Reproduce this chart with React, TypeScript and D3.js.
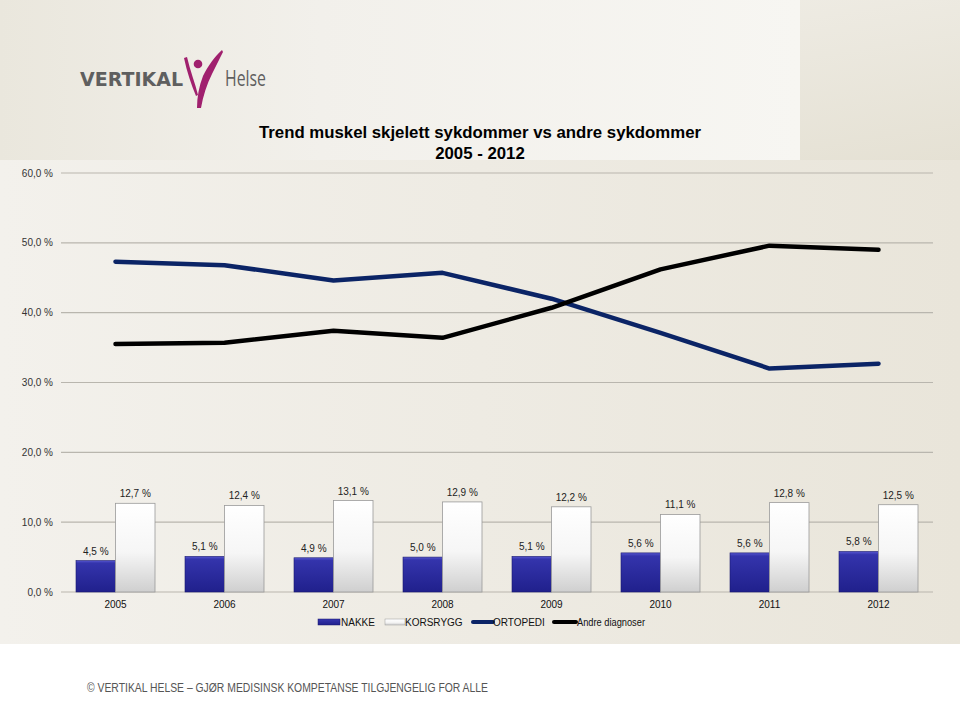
import React from "react";
import * as d3 from "d3";

const years = ["2005", "2006", "2007", "2008", "2009", "2010", "2011", "2012"];
const nakke = [4.5, 5.1, 4.9, 5.0, 5.1, 5.6, 5.6, 5.8];
const korsrygg = [12.7, 12.4, 13.1, 12.9, 12.2, 11.1, 12.8, 12.5];
const ortopedi = [47.3, 46.8, 44.6, 45.7, 42.0, 37.1, 32.0, 32.7];
const andre = [35.5, 35.7, 37.4, 36.4, 40.7, 46.2, 49.6, 49.0];
const yTicks = [0, 10, 20, 30, 40, 50, 60];

const fmt = (v: number) => v.toFixed(1).replace(".", ",") + " %";
const FONT = "'Liberation Sans', Arial, sans-serif";

export default function App() {
  const W = 960, H = 720;
  const x = d3.scaleBand<string>().domain(years).range([61, 933]);
  const x1 = d3.scaleBand<string>().domain(["NAKKE", "KORSRYGG"]).range([15, 94]);
  const y = d3.scaleLinear().domain([0, 60]).range([592, 173]);
  const line = d3
    .line<number>()
    .x((_, i) => (x(years[i]) as number) + x.bandwidth() / 2)
    .y((d) => y(d));

  return (
    <svg width={W} height={H} style={{ position: "absolute", left: 0, top: 0 }} fontFamily={FONT}>
      <defs>
        <linearGradient id="bg" x1="0" y1="0" x2="1" y2="0">
          <stop offset="0" stopColor="#f3f1ec" />
          <stop offset="1" stopColor="#e9e5da" />
        </linearGradient>
        <linearGradient id="hdr" x1="0" y1="0" x2="1" y2="0">
          <stop offset="0" stopColor="#eae7dd" />
          <stop offset="0.4" stopColor="#f2f0eb" />
          <stop offset="1" stopColor="#f7f6f2" />
        </linearGradient>
        <linearGradient id="hdrR" x1="0" y1="0" x2="1" y2="1">
          <stop offset="0" stopColor="#f4f2ed" />
          <stop offset="1" stopColor="#e5e1d4" />
        </linearGradient>
        <linearGradient id="blue" x1="0" y1="0" x2="0" y2="1">
          <stop offset="0" stopColor="#5656d0" />
          <stop offset="0.08" stopColor="#3434ac" />
          <stop offset="1" stopColor="#20208c" />
        </linearGradient>
        <linearGradient id="white" x1="0" y1="0" x2="0" y2="1">
          <stop offset="0" stopColor="#ffffff" />
          <stop offset="0.55" stopColor="#f6f6f6" />
          <stop offset="1" stopColor="#cfcfcf" />
        </linearGradient>
      </defs>
      <rect x={0} y={0} width={W} height={H} fill="#ffffff" />
      <rect x={0} y={160} width={W} height={484} fill="url(#bg)" />
      <rect x={0} y={0} width={W} height={160} fill="url(#hdrR)" />
      <rect x={0} y={0} width={800} height={160} fill="url(#hdr)" />

      {/* Logo */}
      <text x={80} y={86} fontFamily="'DejaVu Sans', sans-serif" fontWeight="bold" fontSize={20} fill="#5f5f5f" textLength={103} lengthAdjust="spacingAndGlyphs">
        VERTIKAL
      </text>
      <path d="M184,58 C187,72 191,84 196,96 L198,95 C195,83 190,70 187,57 Z" fill="#a0206e" />
      <circle cx={198} cy={64} r={4.3} fill="#a0206e" />
      <path d="M222,50 C215,56 208,66 203,76 C199,86 197,97 197,108 L201,108 C203,96 207,84 212,74 C216,66 220,58 223,52 Z" fill="#a0206e" />
      <text x={225} y={86} fontFamily="'Open Sans', 'DejaVu Sans', sans-serif" fontSize={21} fill="#5f5f5f" textLength={41} lengthAdjust="spacingAndGlyphs">
        Helse
      </text>

      {/* Title */}
      <text x={480} y={138} textAnchor="middle" fontWeight="bold" fontSize={16.8} fill="#000">
        Trend muskel skjelett sykdommer vs andre sykdommer
      </text>
      <text x={480} y={159} textAnchor="middle" fontWeight="bold" fontSize={16.8} fill="#000">
        2005 - 2012
      </text>

      {/* Grid + y labels */}
      {yTicks.map((t) => (
        <g key={t}>
          <line x1={61} x2={933} y1={y(t)} y2={y(t)} stroke="#b9b6ae" strokeWidth={1.2} />
          <text x={53} y={y(t) + 3.5} textAnchor="end" fontSize={10} fill="#333">
            {fmt(t)}
          </text>
        </g>
      ))}

      {/* Bars */}
      {years.map((yr, i) => {
        const bx = x(yr) as number;
        const nx = bx + (x1("NAKKE") as number);
        const kx = bx + (x1("KORSRYGG") as number);
        const bw = x1.bandwidth();
        return (
          <g key={yr}>
            <rect x={nx} y={y(nakke[i])} width={bw} height={y(0) - y(nakke[i])} fill="url(#blue)" stroke="#1a1a6e" strokeWidth={0.6} />
            <rect x={kx} y={y(korsrygg[i])} width={bw} height={y(0) - y(korsrygg[i])} fill="url(#white)" stroke="#9a9a9a" strokeWidth={0.8} />
            <text x={nx + bw / 2} y={y(nakke[i]) - 6} textAnchor="middle" fontSize={10} fill="#222">
              {fmt(nakke[i])}
            </text>
            <text x={kx + bw / 2} y={y(korsrygg[i]) - 6} textAnchor="middle" fontSize={10} fill="#222">
              {fmt(korsrygg[i])}
            </text>
            <text x={bx + x.bandwidth() / 2} y={608} textAnchor="middle" fontSize={10} fill="#111">
              {yr}
            </text>
          </g>
        );
      })}

      {/* Lines */}
      <path d={line(ortopedi) as string} fill="none" stroke="#0b2466" strokeWidth={4.5} strokeLinecap="round" strokeLinejoin="round" />
      <path d={line(andre) as string} fill="none" stroke="#000" strokeWidth={4.5} strokeLinecap="round" strokeLinejoin="round" />

      {/* Legend */}
      <g fontSize={10} fill="#111">
        <rect x={318} y={619} width={22} height={6} fill="url(#blue)" stroke="#1a1a6e" strokeWidth={0.5} />
        <text x={341} y={626}>NAKKE</text>
        <rect x={385} y={619} width={20} height={6} fill="url(#white)" stroke="#9a9a9a" strokeWidth={0.5} />
        <text x={405} y={626}>KORSRYGG</text>
        <line x1={473} x2={493} y1={622} y2={622} stroke="#0b2466" strokeWidth={4} strokeLinecap="round" />
        <text x={493} y={626}>ORTOPEDI</text>
        <line x1={554} x2={576} y1={622} y2={622} stroke="#000" strokeWidth={4} strokeLinecap="round" />
        <text x={577} y={626} textLength={68} lengthAdjust="spacingAndGlyphs">Andre diagnoser</text>
      </g>

      {/* Footer */}
      <text x={87} y={692} fontSize={12} fill="#555" textLength={401} lengthAdjust="spacingAndGlyphs">
        © VERTIKAL HELSE – GJØR MEDISINSK KOMPETANSE TILGJENGELIG FOR ALLE
      </text>
    </svg>
  );
}
